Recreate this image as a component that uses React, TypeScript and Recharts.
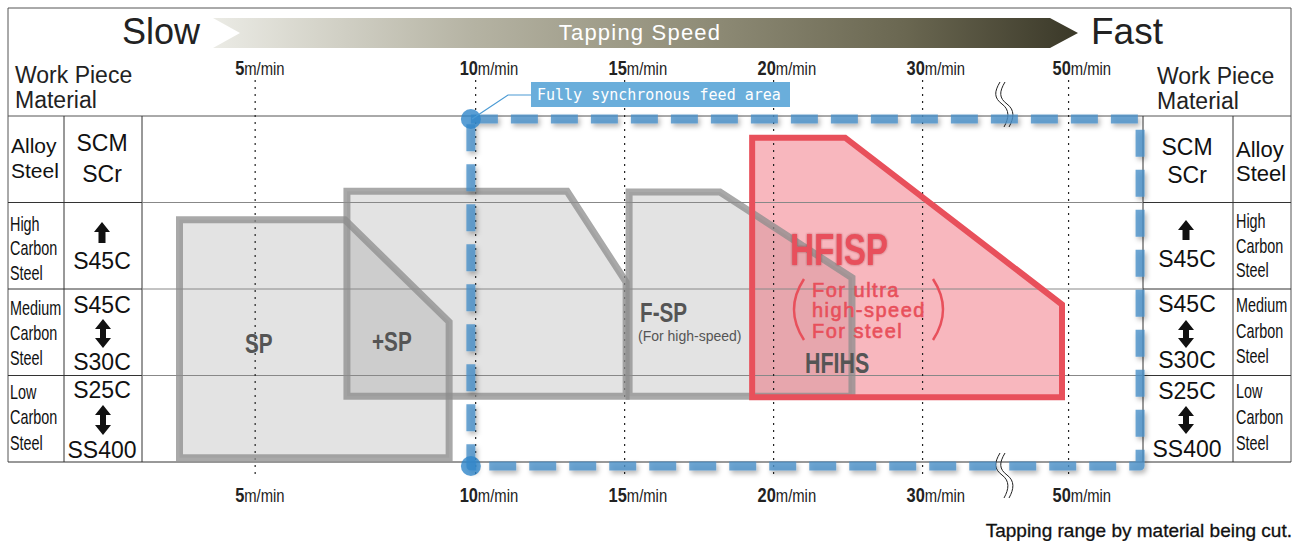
import React from 'react';
import { ComposedChart, Area, Line, Scatter, XAxis, YAxis, ReferenceLine } from 'recharts';

const FONT = "'Liberation Sans', Arial, sans-serif";

// X values are axis-position units (1 unit ≈ 1 m/min between the 10 and 20 m/min marks; the axis is broken past 30)
const speedTickPos = [2.6, 10, 15, 20, 25, 29.9];
const speedTickLabels = ['5', '10', '15', '20', '30', '50'];
const xDomain: [number, number] = [-1.5, 32.7];
// Y values: material hardness rows, 0 = bottom of Low Carbon row, 4 = top of Alloy row
const yDomain: [number, number] = [-0.25, 4.25];
const rowBoundaries = [1, 2, 3];
const dottedSpan = [4.416, -0.185];
const chartSpan = [-1.2, 32.4];

// Tool ranges (left edge, start of slope, right edge) and their heights
const spX = [0.06, 5.61, 9.11];
const spTop = [2.8, 2.8, 1.62];
const spBase = 0.05;
const plusSpX = [5.68, 13.07, 15.05];
const plusSpTop = [3.13, 3.13, 2.08];
const plusSpBase = 0.76;
const fspX = [15.15, 18.2, 22.63];
const fspTop = [3.12, 3.12, 2.13];
const fspBase = 0.76;
const hfispX = [19.28, 22.4, 29.68];
const hfispTop = [3.75, 3.75, 1.82];
const hfispBase = 0.75;
// Fully synchronous feed area
const syncX = [9.84, 32.3];
const syncY = [-0.046, 3.965];

const leftNames = [['Alloy', 'Steel'], ['High', 'Carbon', 'Steel'], ['Medium', 'Carbon', 'Steel'], ['Low', 'Carbon', 'Steel']];
const codes = [['SCM', 'SCr'], ['S45C'], ['S45C', 'S30C'], ['S25C', 'SS400']];

const rangeData = (xs: number[], tops: number[], base: number) =>
  xs.map((x, i) => ({ x, range: [base, tops[i]] }));
const outlineData = (xs: number[], tops: number[], base: number) => [
  { x: xs[0], y: base },
  { x: xs[0], y: tops[0] },
  { x: xs[1], y: tops[1] },
  { x: xs[2], y: tops[2] },
  { x: xs[2], y: base },
  { x: xs[0], y: base },
];
const rectData = [
  { x: syncX[0], y: syncY[1] },
  { x: syncX[1], y: syncY[1] },
  { x: syncX[1], y: syncY[0] },
  { x: syncX[0], y: syncY[0] },
  { x: syncX[0], y: syncY[1] },
];
const syncCorners = [
  { x: syncX[0], y: syncY[1] },
  { x: syncX[0], y: syncY[0] },
];

function makeTick(baseline: number) {
  return (props: any) => {
    const { x, payload } = props;
    const i = speedTickPos.indexOf(payload.value);
    const label = i >= 0 ? speedTickLabels[i] : String(payload.value);
    const shift = label.length === 1 ? 20 : 16;
    return (
      <text transform={`translate(${x - shift},${baseline}) scale(0.78,1)`} fontFamily={FONT} fill="#222">
        <tspan fontWeight="bold" fontSize={21}>{label}</tspan>
        <tspan fontSize={19}>m/min</tspan>
      </text>
    );
  };
}

const CText = ({ x, y, sx = 0.75, children, ...rest }: any) => (
  <text transform={`translate(${x},${y}) scale(${sx},1)`} x={0} y={0} fontFamily={FONT} {...rest}>
    {children}
  </text>
);

const UpArrow = ({ cx, y1, y2 }: any) => (
  <path
    d={`M${cx},${y1} L${cx + 8},${y1 + 10} L${cx + 3.5},${y1 + 10} L${cx + 3.5},${y2} L${cx - 3.5},${y2} L${cx - 3.5},${y1 + 10} L${cx - 8},${y1 + 10} Z`}
    fill="#111"
  />
);
const DblArrow = ({ cx, y1, y2 }: any) => (
  <path
    d={`M${cx},${y1} L${cx + 8},${y1 + 10} L${cx + 3},${y1 + 10} L${cx + 3},${y2 - 10} L${cx + 8},${y2 - 10} L${cx},${y2} L${cx - 8},${y2 - 10} L${cx - 3},${y2 - 10} L${cx - 3},${y1 + 10} L${cx - 8},${y1 + 10} Z`}
    fill="#111"
  />
);

const Break = ({ x, y }: any) => (
  <g fill="none" stroke="#222" strokeWidth={1}>
    <path d={`M${x},${y} C${x - 6},${y + 10} ${x - 6},${y + 16} ${x + 2},${y + 22} S${x + 9},${y + 36} ${x + 4},${y + 45}`} />
    <path d={`M${x + 5},${y} C${x - 1},${y + 10} ${x - 1},${y + 16} ${x + 7},${y + 22} S${x + 14},${y + 36} ${x + 9},${y + 45}`} />
  </g>
);

const Decorations = () => (
  <g>
    <g stroke="#555" strokeWidth={1} fill="none">
      <line x1={8} y1={8} x2={1291} y2={8} />
      <line x1={8} y1={8} x2={8} y2={462} />
      <line x1={1291} y1={8} x2={1291} y2={462} />
      <line x1={8} y1={116} x2={1291} y2={116} />
    </g>
    <g stroke="#333" strokeWidth={1}>
      <line x1={8} y1={462} x2={1291} y2={462} />
      <line x1={64} y1={116} x2={64} y2={462} />
      <line x1={142} y1={116} x2={142} y2={462} />
      <line x1={1143} y1={116} x2={1143} y2={462} />
      <line x1={1233} y1={116} x2={1233} y2={462} />
      {[202.5, 289, 375.5].map((y) => (
        <g key={y}>
          <line x1={8} y1={y} x2={142} y2={y} />
          <line x1={1143} y1={y} x2={1291} y2={y} />
        </g>
      ))}
    </g>
    <polygon points="213,18 1050,18 1078,33 1050,48 213,48 240,33" fill="url(#speedGrad)" />
    <text x={122} y={44} fontFamily={FONT} fontSize={36} fill="#222">Slow</text>
    <text x={1091} y={44} fontFamily={FONT} fontSize={37} fill="#222">Fast</text>
    <text x={640} y={40} textAnchor="middle" fontFamily={FONT} fontSize={22} letterSpacing={1.2} fill="#fff">Tapping Speed</text>
    <text fontFamily={FONT} fontSize={23} fill="#222">
      <tspan x={15} y={83}>Work Piece</tspan>
      <tspan x={15} y={108}>Material</tspan>
    </text>
    <text fontFamily={FONT} fontSize={23} fill="#222">
      <tspan x={1157} y={84}>Work Piece</tspan>
      <tspan x={1157} y={109}>Material</tspan>
    </text>
    <Break x={1000} y={82} />
    <Break x={1000} y={453} />

    <text fontFamily={FONT} fontSize={21} fill="#111">
      <tspan x={11} y={153}>{leftNames[0][0]}</tspan>
      <tspan x={11} y={178}>{leftNames[0][1]}</tspan>
    </text>
    {[[231, 255, 280], [315, 340, 365], [399, 424, 450]].map((ys, r) =>
      ys.map((y, k) => (
        <CText key={`l${r}${k}`} x={10} y={y} sx={0.72} fontSize={20} fill="#111">{leftNames[r + 1][k]}</CText>
      ))
    )}
    <g fontFamily={FONT} fontSize={23} fill="#111" textAnchor="middle">
      <text x={102} y={151}>{codes[0][0]}</text>
      <text x={102} y={182}>{codes[0][1]}</text>
      <text x={102} y={269}>{codes[1][0]}</text>
      <text x={102} y={313}>{codes[2][0]}</text>
      <text x={102} y={370}>{codes[2][1]}</text>
      <text x={102} y={398}>{codes[3][0]}</text>
      <text x={102} y={458}>{codes[3][1]}</text>
    </g>
    <UpArrow cx={102} y1={222} y2={243} />
    <DblArrow cx={103} y1={319} y2={348} />
    <DblArrow cx={103} y1={405} y2={435} />

    <text fontFamily={FONT} fontSize={22} fill="#111">
      <tspan x={1236} y={157}>{leftNames[0][0]}</tspan>
      <tspan x={1236} y={181}>{leftNames[0][1]}</tspan>
    </text>
    {[[228, 253, 277], [312, 338, 363], [398, 424, 450]].map((ys, r) =>
      ys.map((y, k) => (
        <CText key={`r${r}${k}`} x={1236} y={y} sx={0.72} fontSize={20} fill="#111">{leftNames[r + 1][k]}</CText>
      ))
    )}
    <g fontFamily={FONT} fontSize={23} fill="#111" textAnchor="middle">
      <text x={1187} y={155}>{codes[0][0]}</text>
      <text x={1187} y={183}>{codes[0][1]}</text>
      <text x={1187} y={267}>{codes[1][0]}</text>
      <text x={1187} y={312}>{codes[2][0]}</text>
      <text x={1187} y={368}>{codes[2][1]}</text>
      <text x={1187} y={399}>{codes[3][0]}</text>
      <text x={1187} y={457}>{codes[3][1]}</text>
    </g>
    <UpArrow cx={1186} y1={220} y2={240} />
    <DblArrow cx={1186} y1={320} y2={348} />
    <DblArrow cx={1186} y1={406} y2={434} />

    <text x={1292} y={537} textAnchor="end" fontFamily={FONT} fontSize={19} fill="#111" stroke="#111" strokeWidth={0.3}>Tapping range by material being cut.</text>
  </g>
);

const LabelsOverlay = () => (
  <svg width={1297} height={541} style={{ position: 'absolute', left: 0, top: 0, pointerEvents: 'none' }}>
    <defs>
      <filter id="redGlow" x="-10%" y="-10%" width="120%" height="120%">
        <feDropShadow dx="0" dy="0" stdDeviation="1.2" floodColor="#8a1c28" floodOpacity="0.6" />
      </filter>
    </defs>
    <CText x={245} y={353} sx={0.74} fontSize={28} fontWeight="bold" fill="#555">SP</CText>
    <CText x={372} y={351} sx={0.74} fontSize={28} fontWeight="bold" fill="#555">+SP</CText>
    <CText x={640} y={322} sx={0.74} fontSize={28} fontWeight="bold" fill="#555">F-SP</CText>
    <text x={638} y={341} fontFamily={FONT} fontSize={14} fill="#555">(For high-speed)</text>
    <CText x={790} y={265} sx={0.74} fontSize={45} fontWeight="bold" fill="#e8505b" filter="url(#redGlow)">HFISP</CText>
    <g fontFamily={FONT} fontSize={20} fill="#e8505b" stroke="#e8505b" strokeWidth={0.6} letterSpacing={1.5}>
      <text x={812} y={297}>For ultra</text>
      <text x={812} y={317}>high-speed</text>
      <text x={812} y={338}>For steel</text>
    </g>
    <path d="M804,279 Q784,309.5 804,340" fill="none" stroke="#e8505b" strokeWidth={2.5} />
    <path d="M933,279 Q953,309.5 933,340" fill="none" stroke="#e8505b" strokeWidth={2.5} />
    <CText x={805} y={373} sx={0.74} fontSize={29} fontWeight="bold" fill="#555">HFIHS</CText>
    <polyline points="531,95 508,95 472,119" fill="none" stroke="#4a9ad4" strokeWidth={1.2} />
    <rect x={531} y={82} width={259} height={25} fill="#6aaedb" />
    <text x={537} y={100} fontFamily="'DejaVu Sans Mono', monospace" fontSize={15} fill="#fff">Fully synchronous feed area</text>
  </svg>
);

export default function App() {
  const gray = '#8c8c8c';
  return (
    <div style={{ position: 'absolute', left: 0, top: 0, width: 1297, height: 541, background: '#fff' }}>
      <ComposedChart width={1297} height={541} margin={{ top: 0, right: 145, bottom: 0, left: 133 }}>
        <defs>
          <linearGradient id="speedGrad" gradientUnits="userSpaceOnUse" x1={213} y1={0} x2={1078} y2={0}>
            <stop offset="0" stopColor="#ebebe5" />
            <stop offset="0.3" stopColor="#b5b3a3" />
            <stop offset="0.55" stopColor="#928f7a" />
            <stop offset="0.8" stopColor="#6a6751" />
            <stop offset="1" stopColor="#3a3828" />
          </linearGradient>
          <filter id="dashShadow" x="-5%" y="-5%" width="110%" height="110%">
            <feDropShadow dx="2" dy="3" stdDeviation="2.5" floodColor="#000" floodOpacity="0.35" />
          </filter>
        </defs>
        <XAxis
          xAxisId="top"
          orientation="top"
          type="number"
          dataKey="x"
          domain={xDomain}
          allowDataOverflow
          ticks={speedTickPos}
          interval={0}
          axisLine={false}
          tickLine={false}
          tick={makeTick(75)}
          height={94.375}
        />
        <XAxis
          xAxisId={0}
          orientation="bottom"
          type="number"
          dataKey="x"
          domain={xDomain}
          allowDataOverflow
          ticks={speedTickPos}
          interval={0}
          axisLine={false}
          tickLine={false}
          tick={makeTick(502)}
          height={57.375}
        />
        <YAxis type="number" domain={yDomain} allowDataOverflow hide />
        {rowBoundaries.map((r) => (
          <ReferenceLine
            key={`row${r}`}
            segment={[{ x: chartSpan[0], y: r }, { x: chartSpan[1], y: r }]}
            stroke="#888"
            strokeWidth={1}
            ifOverflow="visible"
          />
        ))}
        {speedTickPos.map((t) => (
          <ReferenceLine
            key={`tick${t}`}
            segment={[{ x: t, y: dottedSpan[0] }, { x: t, y: dottedSpan[1] }]}
            stroke="#222"
            strokeWidth={1.2}
            strokeDasharray="2 5"
            ifOverflow="visible"
          />
        ))}
        <Area data={rangeData(spX, spTop, spBase)} dataKey="range" type="linear" stroke="none" fill="#808080" fillOpacity={0.22} isAnimationActive={false} />
        <Line data={outlineData(spX, spTop, spBase)} dataKey="y" type="linear" dot={false} stroke={gray} strokeOpacity={0.75} strokeWidth={7} strokeLinejoin="miter" strokeLinecap="square" isAnimationActive={false} />
        <Area data={rangeData(plusSpX, plusSpTop, plusSpBase)} dataKey="range" type="linear" stroke="none" fill="#808080" fillOpacity={0.22} isAnimationActive={false} />
        <Line data={outlineData(plusSpX, plusSpTop, plusSpBase)} dataKey="y" type="linear" dot={false} stroke={gray} strokeOpacity={0.75} strokeWidth={7} strokeLinejoin="miter" strokeLinecap="square" isAnimationActive={false} />
        <Area data={rangeData(fspX, fspTop, fspBase)} dataKey="range" type="linear" stroke="none" fill="#808080" fillOpacity={0.22} isAnimationActive={false} />
        <Line data={outlineData(fspX, fspTop, fspBase)} dataKey="y" type="linear" dot={false} stroke={gray} strokeOpacity={0.75} strokeWidth={7} strokeLinejoin="miter" strokeLinecap="square" isAnimationActive={false} />
        <Area data={rangeData(hfispX, hfispTop, hfispBase)} dataKey="range" type="linear" stroke="none" fill="#ee4a5c" fillOpacity={0.4} isAnimationActive={false} />
        <Line data={outlineData(hfispX, hfispTop, hfispBase)} dataKey="y" type="linear" dot={false} stroke="#e8505b" strokeWidth={6} strokeLinejoin="miter" strokeLinecap="square" isAnimationActive={false} />
        <Line data={rectData} dataKey="y" type="linear" dot={false} stroke="#4a90c8" strokeOpacity={0.8} strokeWidth={9} strokeDasharray="27 13" strokeLinejoin="round" filter="url(#dashShadow)" isAnimationActive={false} />
        <Scatter
          data={syncCorners}
          dataKey="y"
          isAnimationActive={false}
          shape={(p: any) => <circle cx={p.cx} cy={p.cy} r={10} fill="#2f86c9" fillOpacity={0.8} />}
        />
        <Decorations />
      </ComposedChart>
      <LabelsOverlay />
    </div>
  );
}
